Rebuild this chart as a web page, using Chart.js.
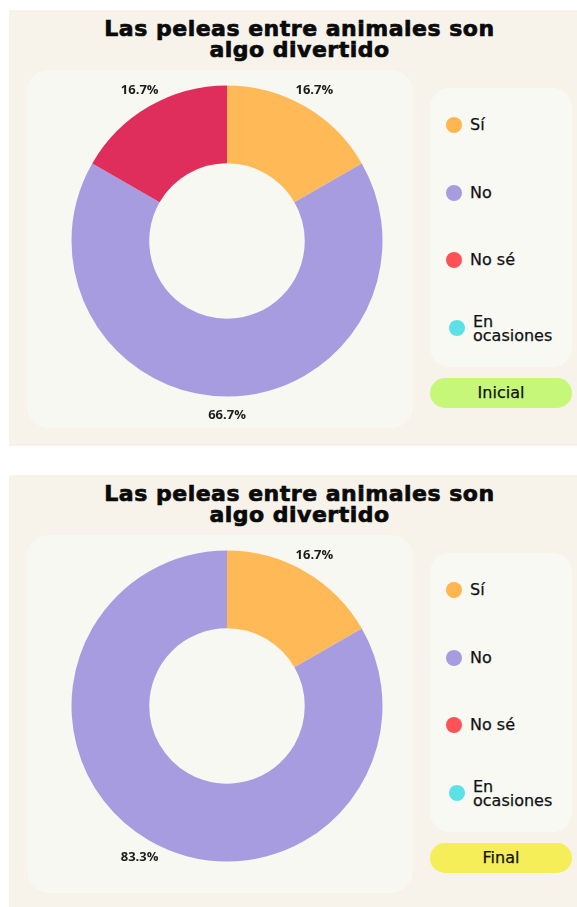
<!DOCTYPE html>
<html>
<head>
<meta charset="utf-8">
<script src="https://cdn.jsdelivr.net/npm/chart.js@4/dist/chart.umd.min.js"></script>
<style>
  html, body { margin: 0; padding: 0; background: #ffffff; }
  body { width: 577px; height: 907px; position: relative; overflow: hidden; }
  .outer { position: absolute; left: 9px; width: 600px; background: #F7F3EA; }
  .title { position: absolute; left: 9px; width: 581px; text-align: center;
           font-family: "DejaVu Sans", sans-serif; font-weight: bold; font-size: 22px;
           line-height: 21px; color: #0a0a0a; letter-spacing: 0.5px;
           -webkit-text-stroke: 0.7px #0a0a0a; }
  .inner { position: absolute; left: 27px; width: 386px; height: 358px; background: #F8F8F3; border-radius: 22px; }
  .chartbox { position: absolute; left: 37px; width: 380px; height: 380px; }
  .legend { position: absolute; left: 430px; width: 142px; height: 279px; background: #F9F9F4; border-radius: 20px; }
  .item { position: absolute; font-family: "DejaVu Sans", sans-serif; font-size: 16px; color: #111; line-height: 14px;
          -webkit-text-stroke: 0.25px #111; }
  .dot { position: absolute; width: 16px; height: 16px; border-radius: 50%; }
  .btn { position: absolute; left: 430px; width: 142px; height: 30px; border-radius: 15px;
         font-family: "DejaVu Sans", sans-serif; font-size: 16px; line-height: 30px; text-align: center; color: #111;
         -webkit-text-stroke: 0.25px #111; }
</style>
</head>
<body>
<script>
// ---- data ----
const titleLines = ["Las peleas entre animales son", "algo divertido"];
const categories = ["Sí", "No", "No sé", "En ocasiones"];
const inicialValues = [16.7, 66.7, 16.7, 0];
const finalValues = [16.7, 83.3, 0, 0];
const sliceColors = ["#FFB957", "#A79CE0", "#E02E5C", "#5CE1E6"];
const legendColors = ["#FFB650", "#A79CE0", "#FF5257", "#5CE1E6"];
const stageLabels = ["Inicial", "Final"];
const stageColors = ["#C6F779", "#F5EE58"];

const pctLabels = {
  id: "pctLabels",
  afterDatasetsDraw(chart) {
    const ctx = chart.ctx;
    const meta = chart.getDatasetMeta(0);
    const data = chart.data.datasets[0].data;
    ctx.save();
    ctx.font = 'bold 13px "Open Sans", sans-serif';
    ctx.fillStyle = "#1c1c1c";
    ctx.textAlign = "center";
    ctx.textBaseline = "middle";
    meta.data.forEach((arc, i) => {
      if (!data[i]) return;
      const p = arc.getProps(["x", "y", "startAngle", "endAngle", "outerRadius"], true);
      const a = (p.startAngle + p.endAngle) / 2;
      const r = p.outerRadius + 19;
      ctx.fillText(data[i].toFixed(1) + "%", p.x + Math.cos(a) * r, p.y + Math.sin(a) * r);
    });
    ctx.restore();
  }
};

function el(cls, css, html) {
  const d = document.createElement("div");
  d.className = cls;
  Object.assign(d.style, css);
  if (html !== undefined) d.innerHTML = html;
  document.body.appendChild(d);
  return d;
}

function buildPanel(oy, values, stageIdx) {
  el("outer", { top: (10 + oy) + "px", height: (436 + (stageIdx ? 10 : 0)) + "px" });
  el("title", { top: (18 + oy) + "px" }, titleLines.join("<br>"));
  el("inner", { top: (70 + oy) + "px" });
  el("legend", { top: (88 + oy) + "px" });
  categories.forEach((c, i) => {
    const cy = 125 + oy + i * 67.7;
    const wrap = c.indexOf(" ") > 0 && c.length > 8;
    const dx = wrap ? 3 : 0;
    el("dot", { left: (446 + dx) + "px", top: (cy - 8) + "px", background: legendColors[i] });
    if (wrap) {
      el("item", { left: (470 + dx) + "px", top: (cy - 13) + "px" }, c.replace(" ", "<br>"));
    } else {
      el("item", { left: "470px", top: (cy - 7) + "px" }, c);
    }
  });
  el("btn", { top: (378 + oy) + "px", background: stageColors[stageIdx] }, stageLabels[stageIdx]);

  const box = el("chartbox", { top: (50.5 + oy) + "px" });
  const cv = document.createElement("canvas");
  cv.width = 380; cv.height = 380;
  box.appendChild(cv);
  new Chart(cv, {
    type: "doughnut",
    data: {
      labels: categories,
      datasets: [{ data: values, backgroundColor: sliceColors, borderWidth: 0 }]
    },
    options: {
      responsive: false,
      animation: false,
      devicePixelRatio: 1,
      cutout: "50%",
      layout: { padding: 34.5 },
      plugins: { legend: { display: false }, tooltip: { enabled: false } }
    },
    plugins: [pctLabels]
  });
}

buildPanel(0, inicialValues, 0);
buildPanel(465, finalValues, 1);
</script>
</body>
</html>
